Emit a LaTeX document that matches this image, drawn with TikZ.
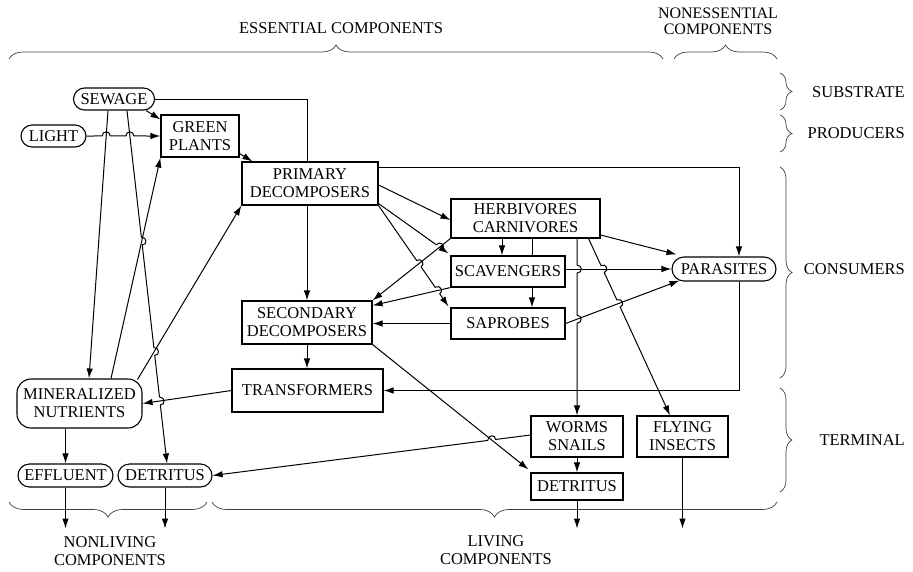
\documentclass[tikz,border=0pt]{standalone}
\usepackage{fontspec}
\setmainfont{Liberation Serif}
\usetikzlibrary{arrows.meta,calc,decorations.pathreplacing}
\newcommand{\diafont}{\fontsize{16.5}{18}\selectfont}
\newcommand{\diafontb}{\fontsize{16}{16}\selectfont}
\begin{document}
\begin{tikzpicture}[x=1pt,y=-1pt,
  ln/.style={line width=1pt},
  arr/.style={ln,-{Latex[length=10pt,width=6.5pt]}},
  box/.style={draw,line width=1.1pt,inner sep=0pt,align=center,font=\diafont},
  lbl/.style={inner sep=0pt,align=center,font=\diafont},
  brc/.style={decorate,decoration={brace,amplitude=#1},line width=0.7pt,draw=black!75},
  sz/.style 2 args={minimum width=#1pt,minimum height=#2pt}]
\useasboundingbox (0,0) rectangle (913,571);

% ---------- nodes ----------
\node[box,rounded corners=11pt,sz={81}{22}] (sew) at (114,99) {SEWAGE};
\node[box,rounded corners=11pt,sz={65}{22}] (light) at (53.5,136) {LIGHT};
\node[box,sz={78}{42}] (gp) at (200,136) {GREEN\\PLANTS};
\node[box,sz={136}{43}] (pd) at (310,183.5) {PRIMARY\\DECOMPOSERS};
\node[box,sz={149}{39}] (hc) at (525.5,218.5) {HERBIVORES\\CARNIVORES};
\node[box,sz={114}{31}] (scav) at (508,271.5) {SCAVENGERS};
\node[box,sz={114}{31}] (sap) at (508,323.5) {SAPROBES};
\node[box,rounded corners=12pt,sz={104}{24}] (par) at (724,269) {PARASITES};
\node[box,sz={130}{43}] (sd) at (307,322.5) {SECONDARY\\DECOMPOSERS};
\node[box,sz={151}{43}] (tr) at (307.5,390.5) {TRANSFORMERS};
\node[box,rounded corners=14pt,sz={125}{49}] (mn) at (79.5,403.5) {MINERALIZED\\NUTRIENTS};
\node[box,rounded corners=11.5pt,sz={95}{23}] (eff) at (65.5,475.5) {EFFLUENT};
\node[box,rounded corners=11.5pt,sz={94}{23}] (detl) at (165,475.5) {DETRITUS};
\node[box,sz={92}{41}] (ws) at (577,436.5) {WORMS\\SNAILS};
\node[box,sz={91}{41}] (fi) at (682.5,436.5) {FLYING\\INSECTS};
\node[box,sz={92}{27}] (detr) at (577,486.5) {DETRITUS};

% ---------- labels ----------
\node[lbl] (ess) at (341,28) {ESSENTIAL COMPONENTS};
\node[lbl,font=\diafontb] (ness) at (718,21.5) {NONESSENTIAL\\COMPONENTS};
\node[lbl,anchor=east] (subs) at (905,92) {SUBSTRATE};
\node[lbl,anchor=east] (prod) at (905,133) {PRODUCERS};
\node[lbl,anchor=east] (cons) at (905,269) {CONSUMERS};
\node[lbl,anchor=east] (term) at (905,440) {TERMINAL};
\node[lbl] (nonl) at (110,551.5) {NONLIVING\\COMPONENTS};
\node[lbl] (liv) at (496,550) {LIVING\\COMPONENTS};

% ---------- braces ----------
\draw[brc=14pt] (9,59) -- (663,59);
\draw[brc=14pt] (674,59) -- (777,59);
\draw[brc=12pt] (780,73) -- (780,110);
\draw[brc=12pt] (780,115) -- (780,152);
\draw[brc=12pt] (780,167) -- (780,378);
\draw[brc=12pt] (780,388) -- (780,492);
\draw[brc=15pt] (207,502) -- (9,502);
\draw[brc=15pt] (777,502) -- (212,502);

% ---------- end points ----------
\coordinate (e3a) at (light.east);
\coordinate (e3b) at (gp.west);
\coordinate (e4a) at ($(sew.south)+(-6,0)$);
\coordinate (e4b) at ($(mn.north)+(9.5,0)$);
\coordinate (e5a) at ($(sew.south)+(13,0)$);
\coordinate (e5b) at ($(detl.north)+(2,0)$);
\coordinate (e6a) at ($(mn.north)+(31.5,0)$);
\coordinate (e6b) at (gp.south west);
\coordinate (e7a) at ($(mn.north east)+(-5,1)$);
\coordinate (e7b) at (pd.south west);
\coordinate (e12a) at ($(pd.south east)+(0,-2)$);
\coordinate (e12b) at ($(scav.north west)+(-2,-2)$);
\coordinate (e13a) at (pd.south east);
\coordinate (e13b) at ($(sap.north west)+(-2,-1)$);
\coordinate (e14a) at (hc.south west);
\coordinate (e14b) at (sd.north east);
\coordinate (e15a) at (scav.south west);
\coordinate (e15b) at ($(sd.east)+(0,-17)$);
\coordinate (e19a) at (ws.north |- hc.south);
\coordinate (e19b) at (ws.north);
\coordinate (e20a) at ($(hc.south east)+(-12,0)$);
\coordinate (e20b) at ($(fi.north)+(-12.5,0)$);
\coordinate (e22a) at (scav.east |- par.west);
\coordinate (e22b) at (par.west);
\coordinate (e23a) at (sap.east);
\coordinate (e23b) at ($(par.south west)+(8,-1)$);
\coordinate (e26a) at (sd.south east);
\coordinate (e26b) at ($(detr.north west)+(-2,-3)$);
\coordinate (e27a) at (tr.west);
\coordinate (e27b) at (mn.east);
\coordinate (e30a) at ($(ws.west)+(0,-1.5)$);
\coordinate (e30b) at (detl.east);
\coordinate (x502) at ($(scav.north)+(-6,0)$);
\coordinate (x532) at ($(scav.north)+(24,0)$);
\coordinate (p15n) at ($(par.north)+(15,0)$);
\coordinate (p15s) at ($(par.south)+(15,0)$);
\coordinate (o1) at ($(eff.south)+(0,41)$);
\coordinate (o2) at ($(detl.south)+(0,41)$);
\coordinate (o3) at ($(detr.south)+(0,28)$);
\coordinate (o4) at ($(fi.south)+(0,71)$);

% ---------- crossings ----------
\coordinate (h3a) at (intersection of e3a--e3b and e4a--e4b);
\coordinate (h3b) at (intersection of e3a--e3b and e5a--e5b);
\coordinate (h5a) at (intersection of e5a--e5b and e6a--e6b);
\coordinate (h5b) at (intersection of e5a--e5b and e7a--e7b);
\coordinate (h5c) at (intersection of e5a--e5b and e27a--e27b);
\coordinate (h12) at (intersection of e12a--e12b and e14a--e14b);
\coordinate (h13a) at (intersection of e13a--e13b and e14a--e14b);
\coordinate (h13b) at (intersection of e13a--e13b and e15a--e15b);
\coordinate (h19a) at (intersection of e19a--e19b and e22a--e22b);
\coordinate (h19b) at (intersection of e19a--e19b and e23a--e23b);
\coordinate (h20a) at (intersection of e20a--e20b and e22a--e22b);
\coordinate (h20b) at (intersection of e20a--e20b and e23a--e23b);
\coordinate (h30) at (intersection of e30a--e30b and e26a--e26b);

% ---------- connectors ----------
\draw[ln] (sew.east) -| (sd.north |- pd.north);
\draw[arr] ($(sew.south east)+(-9,0)$) -- ($(gp.north west)+(0,5)$);
\draw[arr] (e3a)
  -- ($(h3a)!4pt!(e3a)$) .. controls ($(h3a)!4pt!(e3a)+(0,-5.5)$) and ($(h3a)!4pt!(e3b)+(0,-5.5)$) .. ($(h3a)!4pt!(e3b)$)
  -- ($(h3b)!4pt!(e3a)$) .. controls ($(h3b)!4pt!(e3a)+(0,-5.5)$) and ($(h3b)!4pt!(e3b)+(0,-5.5)$) .. ($(h3b)!4pt!(e3b)$)
  -- (e3b);
\draw[arr] (e4a) -- (e4b);
\draw[arr] (e5a)
  -- ($(h5a)!4pt!(e5a)$) .. controls ($(h5a)!4pt!(e5a)+(5.5,0)$) and ($(h5a)!4pt!(e5b)+(5.5,0)$) .. ($(h5a)!4pt!(e5b)$)
  -- ($(h5b)!4pt!(e5a)$) .. controls ($(h5b)!4pt!(e5a)+(5.5,0)$) and ($(h5b)!4pt!(e5b)+(5.5,0)$) .. ($(h5b)!4pt!(e5b)$)
  -- ($(h5c)!4pt!(e5a)$) .. controls ($(h5c)!4pt!(e5a)+(5.5,0)$) and ($(h5c)!4pt!(e5b)+(5.5,0)$) .. ($(h5c)!4pt!(e5b)$)
  -- (e5b);
\draw[arr] (e6a) -- (e6b);
\draw[arr] (e7a) -- (e7b);
\draw[arr] ($(gp.south east)+(0,-4)$) -- ($(pd.north west)+(11,0)$);
\draw[arr] (sd.north |- pd.south) -- (sd.north);
\draw[arr] ($(pd.north east)+(0,6)$) -| (p15n);
\draw[arr] ($(pd.east)+(0,1.5)$) -- ($(hc.west)+(0,1.5)$);
\draw[arr] (e12a)
  -- ($(h12)!4pt!(e12a)$) .. controls ($(h12)!4pt!(e12a)+(3,-4.5)$) and ($(h12)!4pt!(e12b)+(3,-4.5)$) .. ($(h12)!4pt!(e12b)$)
  -- (e12b);
\draw[arr] (e13a)
  -- ($(h13a)!4pt!(e13a)$) .. controls ($(h13a)!4pt!(e13a)+(4.5,-3)$) and ($(h13a)!4pt!(e13b)+(4.5,-3)$) .. ($(h13a)!4pt!(e13b)$)
  -- ($(h13b)!4pt!(e13a)$) .. controls ($(h13b)!4pt!(e13a)+(4.5,-3)$) and ($(h13b)!4pt!(e13b)+(4.5,-3)$) .. ($(h13b)!4pt!(e13b)$)
  -- (e13b);
\draw[arr] (e14a) -- (e14b);
\draw[arr] (e15a) -- (e15b);
\draw[arr] (sap.west) -- (sd.east |- sap.west);
\draw[arr] (x502 |- hc.south) -- (x502);
\draw[ln] (x532 |- hc.south) -- (x532);
\draw[arr] ($(scav.south)+(24,0)$) -- ($(sap.north)+(24,0)$);
\draw[arr] (e19a)
  -- ($(h19a)!4pt!(e19a)$) .. controls ($(h19a)!4pt!(e19a)+(5.5,0)$) and ($(h19a)!4pt!(e19b)+(5.5,0)$) .. ($(h19a)!4pt!(e19b)$)
  -- ($(h19b)!4pt!(e19a)$) .. controls ($(h19b)!4pt!(e19a)+(5.5,0)$) and ($(h19b)!4pt!(e19b)+(5.5,0)$) .. ($(h19b)!4pt!(e19b)$)
  -- (e19b);
\draw[arr] (e20a)
  -- ($(h20a)!4pt!(e20a)$) .. controls ($(h20a)!4pt!(e20a)+(5,-2.3)$) and ($(h20a)!4pt!(e20b)+(5,-2.3)$) .. ($(h20a)!4pt!(e20b)$)
  -- ($(h20b)!4pt!(e20a)$) .. controls ($(h20b)!4pt!(e20a)+(5,-2.3)$) and ($(h20b)!4pt!(e20b)+(5,-2.3)$) .. ($(h20b)!4pt!(e20b)$)
  -- (e20b);
\draw[arr] ($(hc.east)+(0,16.5)$) -- ($(par.north west)+(5,-2)$);
\draw[arr] (e22a) -- (e22b);
\draw[arr] (e23a) -- (e23b);
\draw[arr] (p15s) |- (tr.east);
\draw[arr] (sd.south) -- (sd.south |- tr.north);
\draw[arr] (e26a) -- (e26b);
\draw[arr] (e27a) -- (e27b);
\draw[arr] (eff.north |- mn.south) -- (eff.north);
\draw[arr] (ws.south) -- (detr.north);
\draw[arr] (e30a)
  -- ($(h30)!4pt!(e30a)$) .. controls ($(h30)!4pt!(e30a)+(0,-5.5)$) and ($(h30)!4pt!(e30b)+(0,-5.5)$) .. ($(h30)!4pt!(e30b)$)
  -- (e30b);
\draw[arr] (eff.south) -- (o1);
\draw[arr] (detl.south) -- (o2);
\draw[arr] (detr.south) -- (o3);
\draw[arr] (fi.south) -- (o4);
\end{tikzpicture}
\end{document}
